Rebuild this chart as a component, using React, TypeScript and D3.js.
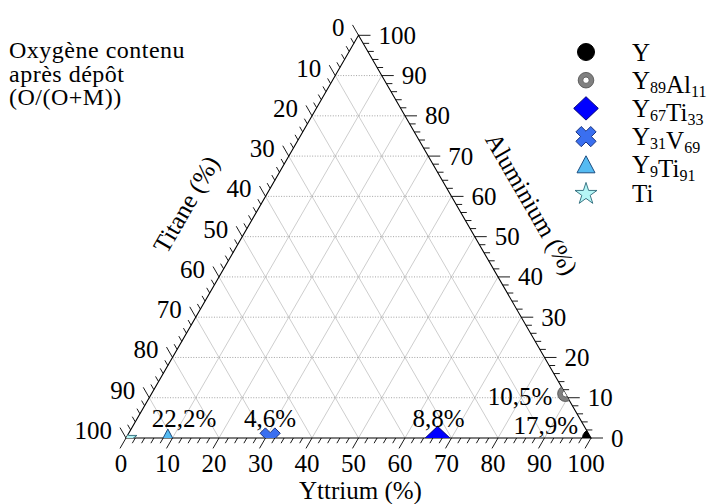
import React from "react";
import * as d3 from "d3";

// ---- data ----
const compositions = ["Y", "Y89Al11", "Y67Ti33", "Y31V69", "Y9Ti91", "Ti"];
const legendMain = [["Y"], ["Y", "Al"], ["Y", "Ti"], ["Y", "V"], ["Y", "Ti"], ["Ti"]];
const legendSub = [[""], ["89", "11"], ["67", "33"], ["31", "69"], ["9", "91"], [""]];
const yttriumPct = [100, 89, 67, 31, 9, 0];
const aluminiumPct = [0, 11, 0, 0, 0, 0];
const oxygenLabels = ["17,9%", "10,5%", "8,8%", "4,6%", "22,2%", ""];
const titleLines = ["Oxygène contenu", "après dépôt", "(O/(O+M))"];
const majorTicks = d3.range(0, 101, 10);
const minorTicks = d3.range(0, 101, 2);
const gridValues = d3.range(10, 100, 10);

// ---- style ----
const FONT = "Liberation Serif, DejaVu Serif, serif";
const FS = 25;
const markerStyles = [
  { kind: "circle", fill: "#000000", stroke: "#000000" },
  { kind: "ring", fill: "#808080", stroke: "#4a4a4a" },
  { kind: "diamond", fill: "#0000ff", stroke: "#00007a" },
  { kind: "x", fill: "#3a6ff0", stroke: "#1a3380" },
  { kind: "triangle", fill: "#55bbf2", stroke: "#1d4d80" },
  { kind: "star", fill: "#b4f6f6", stroke: "#2a6878" },
];
// label offsets (px) relative to each marker: [dx, dy, anchor]
const labelPlacement: [number, number, string][] = [
  [-13, -4, "end"],
  [-13, 11, "end"],
  [1, -11, "middle"],
  [0, -11, "middle"],
  [-16, -11, "start"],
  [0, 0, "middle"],
];

const LEFT = 126;
const RIGHT = 591;
const BOTTOM = 438;
const W = RIGHT - LEFT;
const H = (W * Math.sqrt(3)) / 2;

const xs = d3.scaleLinear().domain([0, 100]).range([LEFT, RIGHT]);
const ys = d3.scaleLinear().domain([0, 100]).range([BOTTOM, BOTTOM - H]);
const pos = (yt: number, al: number): [number, number] => [xs(yt + al / 2), ys(al)];

function xPath(L: number, w: number) {
  const pts: [number, number][] = [
    [w, w], [L, w], [L, -w], [w, -w], [w, -L], [-w, -L], [-w, -w], [-L, -w], [-L, w], [-w, w], [-w, L], [w, L],
  ];
  const c = Math.SQRT1_2;
  const r = pts.map(([x, y]) => [(x - y) * c, (x + y) * c]);
  return "M" + r.map((p) => p.join(",")).join("L") + "Z";
}

function Marker({ i, x, y }: { i: number; x: number; y: number }) {
  const s = markerStyles[i];
  const t = `translate(${x},${y})`;
  if (s.kind === "circle") return <circle cx={x} cy={y} r={8.5} fill={s.fill} stroke={s.stroke} />;
  if (s.kind === "ring")
    return (
      <g>
        <circle cx={x} cy={y} r={7.8} fill={s.fill} stroke={s.stroke} strokeWidth={0.8} />
        <circle cx={x} cy={y} r={3.2} fill="#ffffff" stroke={s.stroke} strokeWidth={0.8} />
      </g>
    );
  if (s.kind === "diamond")
    return <path transform={t} d="M0,-11.7L12.3,0L0,11.7L-12.3,0Z" fill={s.fill} stroke={s.stroke} strokeWidth={1} />;
  if (s.kind === "x") return <path transform={t} d={xPath(10.5, 3.8)} fill={s.fill} stroke={s.stroke} strokeWidth={1} />;
  if (s.kind === "triangle")
    return <path transform={t} d="M0,-9L9,8L-9,8Z" fill={s.fill} stroke={s.stroke} strokeWidth={1} />;
  const star = d3.symbol().type(d3.symbolStar).size(150)();
  return <path transform={`translate(${x},${y + 1})`} d={star || ""} fill={s.fill} stroke={s.stroke} strokeWidth={0.9} />;
}

function T(props: any) {
  return <text fontFamily={FONT} fontSize={FS} fill="#000" {...props} />;
}

export default function App() {
  const A = pos(0, 100);
  const Bl = pos(0, 0);
  const Br = pos(100, 0);
  const triPts = `${Bl[0]},${Bl[1]} ${Br[0]},${Br[1]} ${A[0]},${A[1]}`;
  const c60 = 0.5;
  const s60 = Math.sqrt(3) / 2;

  const gridH = gridValues.map((k) => [pos(0, k), pos(100 - k, k)]);
  const gridY = gridValues.map((k) => [pos(k, 0), pos(k, 100 - k)]);
  const gridT = gridValues.map((k) => [pos(100 - k, 0), pos(0, 100 - k)]);

  const leftMid = pos(0, 50);
  const rightMid = pos(50, 50);

  return (
    <svg width={708} height={504} style={{ position: "absolute", left: 0, top: 0, background: "#ffffff" }}>
      <defs>
        <clipPath id="tri">
          <polygon points={triPts} />
        </clipPath>
      </defs>

      {/* grid */}
      <g>
        {gridY.concat(gridT).map(([p, q], i) => (
          <line key={"d" + i} x1={p[0]} y1={p[1]} x2={q[0]} y2={q[1]} stroke="#b8b8b8" strokeWidth={0.7} />
        ))}
        {gridH.map(([p, q], i) => (
          <line
            key={"h" + i}
            x1={p[0]}
            y1={p[1]}
            x2={q[0]}
            y2={q[1]}
            stroke="#8c8c8c"
            strokeWidth={0.8}
            strokeDasharray="1,1.6"
          />
        ))}
      </g>

      {/* triangle edges */}
      <polygon points={triPts} fill="none" stroke="#000" strokeWidth={1.1} />

      {/* ticks */}
      <g stroke="#000" strokeWidth={0.9}>
        {minorTicks.map((v) => {
          const len = v % 10 === 0 ? 12 : 6;
          const b = pos(v, 0);
          const r = pos(100 - v, v);
          const l = pos(0, 100 - v);
          return (
            <g key={"t" + v}>
              <line x1={b[0]} y1={b[1]} x2={b[0] - c60 * len} y2={b[1] + s60 * len} />
              <line x1={r[0]} y1={r[1]} x2={r[0] + len} y2={r[1]} />
              <line x1={l[0]} y1={l[1]} x2={l[0] - c60 * len} y2={l[1] - s60 * len} />
            </g>
          );
        })}
      </g>

      {/* tick labels */}
      {majorTicks.map((v) => {
        const b = pos(v, 0);
        const r = pos(100 - v, v);
        const l = pos(0, 100 - v);
        return (
          <g key={"l" + v}>
            <T x={b[0] - 5} y={472} textAnchor="middle">
              {v}
            </T>
            <T x={r[0] + 20} y={r[1] + 8.5} textAnchor="start">
              {v}
            </T>
            <T x={l[0] - 14} y={l[1] + 1} textAnchor="end">
              {v}
            </T>
          </g>
        );
      })}

      {/* axis titles */}
      <T x={xs(50) + 2} y={499} textAnchor="middle">
        Yttrium (%)
      </T>
      <T
        transform={`translate(${leftMid[0] - 65 * s60},${leftMid[1] - 65 * c60}) rotate(-60)`}
        textAnchor="middle"
        dy="0.35em"
      >
        Titane (%)
      </T>
      <T
        transform={`translate(${rightMid[0] + 66 * s60},${rightMid[1] - 66 * c60}) rotate(60)`}
        textAnchor="middle"
        dy="0.35em"
      >
        Aluminium (%)
      </T>

      {/* data markers (clipped to triangle) */}
      <g clipPath="url(#tri)">
        {compositions.map((c, i) => {
          const [x, y] = pos(yttriumPct[i], aluminiumPct[i]);
          return <Marker key={c} i={i} x={x} y={y} />;
        })}
      </g>

      {/* oxygen annotations */}
      {compositions.map((c, i) => {
        const [x, y] = pos(yttriumPct[i], aluminiumPct[i]);
        const [dx, dy, anchor] = labelPlacement[i];
        return oxygenLabels[i] ? (
          <T key={"o" + c} x={x + dx} y={y + dy} textAnchor={anchor}>
            {oxygenLabels[i]}
          </T>
        ) : null;
      })}

      {/* title */}
      {titleLines.map((t, i) => (
        <T key={t} x={9} y={58 + i * 23.5} fontSize={24} letterSpacing={0.5}>
          {t}
        </T>
      ))}

      {/* legend */}
      <g>
        {compositions.map((c, i) => {
          const y = 52 + i * 28.2;
          return (
            <g key={"lg" + c}>
              <Marker i={i} x={586} y={y} />
              <T x={632} y={y + 8.5}>
                {legendMain[i].map((m, j) => (
                  <React.Fragment key={j}>
                    <tspan>{m}</tspan>
                    {legendSub[i][j] ? (
                      <tspan fontSize={16} dy={4}>
                        {legendSub[i][j]}
                      </tspan>
                    ) : null}
                    {legendSub[i][j] ? <tspan dy={-4}>{""}</tspan> : null}
                  </React.Fragment>
                ))}
              </T>
            </g>
          );
        })}
      </g>
    </svg>
  );
}
